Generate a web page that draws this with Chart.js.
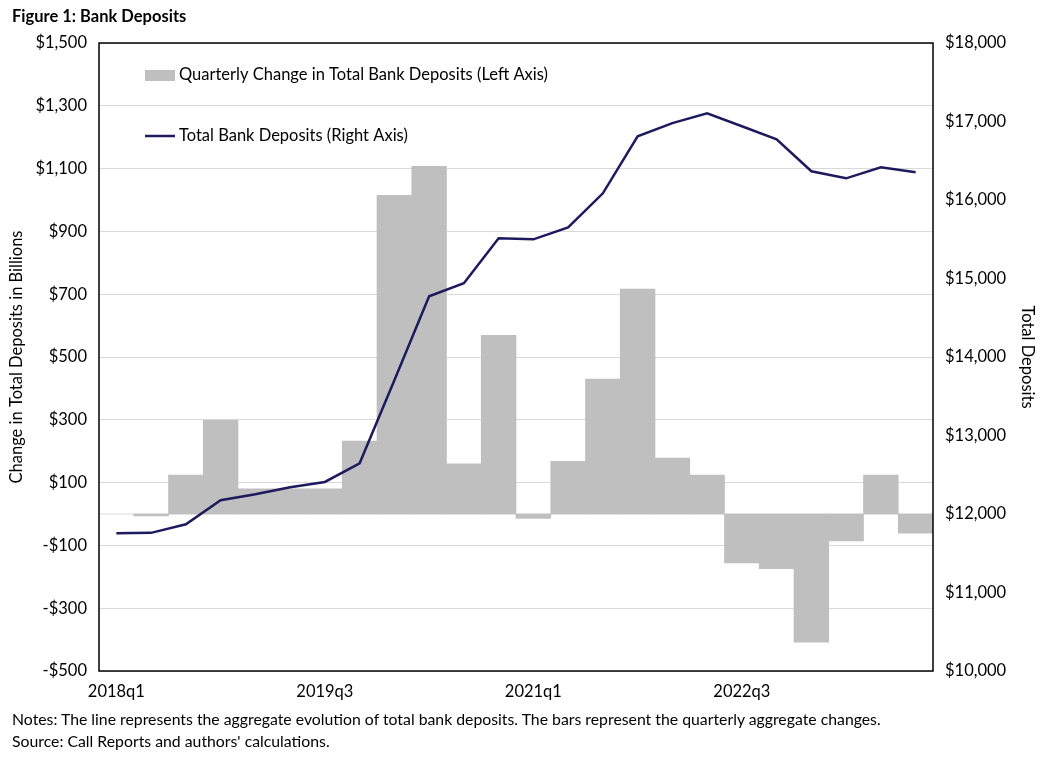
<!DOCTYPE html>
<html>
  <head>
    <title>Bank Deposits</title>
    <script src="https://cdn.jsdelivr.net/npm/chart.js"></script>
    <style>
      body {
        margin: 0;
        background: #ffffff;
        font-family: Lato, "Liberation Sans", sans-serif;
      }

      #wrap {
        position: relative;
        width: 1044px;
        height: 758px;
      }

      #figTitle {
        position: absolute;
        left: 12px;
        top: 6px;
        font-size: 16.5px;
        font-weight: bold;
        color: #000;
      }

      .note {
        position: absolute;
        left: 12px;
        font-size: 15.8px;
        color: #000;
        white-space: nowrap;
      }

      canvas {
        position: absolute;
        left: 0;
        top: 0;
      }
    </style>
  </head>
  <body>
    <div id="wrap">
      <canvas id="depositChart" width="1044" height="758"></canvas>
      <div id="figTitle">Figure 1: Bank Deposits</div>
      <div class="note" style="top: 709px">
        Notes: The line represents the aggregate evolution of total bank deposits. The bars represent the quarterly aggregate changes.
      </div>
      <div class="note" style="top: 731px">Source: Call Reports and authors' calculations.</div>
    </div>

    <script>
      // quarters shown on the x axis
      const quarters = [
        "2018q1", "2018q2", "2018q3", "2018q4",
        "2019q1", "2019q2", "2019q3", "2019q4",
        "2020q1", "2020q2", "2020q3", "2020q4",
        "2021q1", "2021q2", "2021q3", "2021q4",
        "2022q1", "2022q2", "2022q3", "2022q4",
        "2023q1", "2023q2", "2023q3", "2023q4",
      ];

      // quarterly change in total bank deposits, billions (left axis)
      const depositChange = [
        null, -6, 124, 298,
        80, 80, 80, 232,
        1015, 1107, 160, 569,
        -14, 168, 430, 716,
        178, 124, -156, -174,
        -408, -86, 124, -61,
      ];

      // total bank deposits, billions (right axis)
      const totalDeposits = [
        11754, 11760, 11869, 12175,
        12251, 12340, 12408, 12646,
        13703, 14773, 14939, 15512,
        15499, 15652, 16085, 16811,
        16980, 17104, 16939, 16773,
        16366, 16276, 16417, 16353,
      ];

      const barColor = "#BFBFBF";
      const lineColor = "#1E1A5E";
      const fontFamily = "Lato, 'Liberation Sans', sans-serif";
      const fontSize = 16.5;

      function dollars(v) {
        const s = "$" + Math.abs(v).toLocaleString("en-US");
        return v < 0 ? "-" + s : s;
      }

      // zero line, frame and in-plot legend
      const framePlugin = {
        id: "frame",
        beforeDatasetsDraw(chart) {
          const { ctx, chartArea } = chart;
          const y0 = chart.scales.y.getPixelForValue(0);
          ctx.save();
          ctx.strokeStyle = "#D9D9D9";
          ctx.lineWidth = 1;
          ctx.beginPath();
          ctx.moveTo(chartArea.left, y0);
          ctx.lineTo(chartArea.right, y0);
          ctx.stroke();
          ctx.restore();
        },
        afterDraw(chart) {
          const { ctx, chartArea } = chart;
          ctx.save();
          ctx.strokeStyle = "#000000";
          ctx.lineWidth = 1.5;
          ctx.strokeRect(chartArea.left, chartArea.top, chartArea.right - chartArea.left, chartArea.bottom - chartArea.top);

          const ds = chart.data.datasets;
          const x = chartArea.left + 46;
          ctx.font = fontSize + "px " + fontFamily;
          ctx.textBaseline = "middle";

          ctx.fillStyle = ds[1].backgroundColor;
          ctx.fillRect(x, chartArea.top + 27, 30, 11);
          ctx.fillStyle = "#000";
          ctx.fillText(ds[1].label, x + 34, chartArea.top + 32);

          ctx.strokeStyle = ds[0].borderColor;
          ctx.lineWidth = 2.5;
          ctx.beginPath();
          ctx.moveTo(x, chartArea.top + 93);
          ctx.lineTo(x + 30, chartArea.top + 93);
          ctx.stroke();
          ctx.fillText(ds[0].label, x + 34, chartArea.top + 93);
          ctx.restore();
        },
      };

      const ctx = document.getElementById("depositChart").getContext("2d");
      const depositChart = new Chart(ctx, {
        data: {
          labels: quarters,
          datasets: [
            {
              type: "line",
              label: "Total Bank Deposits (Right Axis)",
              data: totalDeposits,
              yAxisID: "y1",
              borderColor: lineColor,
              borderWidth: 2.5,
              pointRadius: 0,
              tension: 0,
              order: 0,
            },
            {
              type: "bar",
              label: "Quarterly Change in Total Bank Deposits (Left Axis)",
              data: depositChange,
              yAxisID: "y",
              backgroundColor: barColor,
              barPercentage: 1,
              categoryPercentage: 1,
              order: 1,
            },
          ],
        },
        options: {
          responsive: false,
          animation: false,
          layout: { padding: { top: 43, left: 0, right: 0, bottom: 0 } },
          plugins: {
            legend: { display: false },
            tooltip: { enabled: false },
          },
          scales: {
            x: {
              grid: { display: false, drawTicks: false },
              border: { display: false },
              ticks: {
                autoSkip: false,
                maxRotation: 0,
                padding: 11,
                color: "#000",
                font: { family: fontFamily, size: fontSize },
                callback: (val, i) => (i % 6 === 0 ? quarters[i] : ""),
              },
              afterFit: (s) => { s.height = 87; },
            },
            y: {
              position: "left",
              min: -500,
              max: 1500,
              grid: { color: "#D9D9D9", drawTicks: false },
              border: { display: false },
              ticks: {
                stepSize: 200,
                padding: 12,
                color: "#000",
                font: { family: fontFamily, size: fontSize },
                callback: (v) => dollars(v),
              },
              title: {
                display: true,
                text: "Change in Total Deposits in Billions",
                color: "#000",
                font: { family: fontFamily, size: fontSize },
                padding: { top: 7, bottom: 0 },
              },
              afterFit: (s) => { s.width = 99; },
            },
            y1: {
              position: "right",
              min: 10000,
              max: 18000,
              grid: { display: false, drawTicks: false },
              border: { display: false },
              ticks: {
                stepSize: 1000,
                padding: 12,
                color: "#000",
                font: { family: fontFamily, size: fontSize },
                callback: (v) => dollars(v),
              },
              title: {
                display: true,
                text: "Total Deposits",
                color: "#000",
                font: { family: fontFamily, size: fontSize },
                padding: { top: 7, bottom: 0 },
              },
              afterFit: (s) => { s.width = 111; },
            },
          },
        },
        plugins: [framePlugin],
      });
    </script>
  </body>
</html>
